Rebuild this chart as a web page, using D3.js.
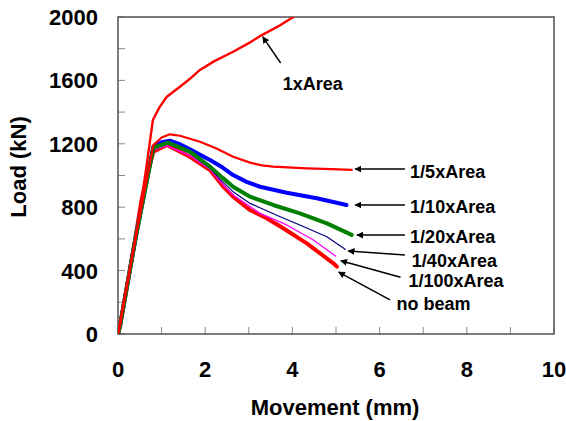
<!DOCTYPE html>
<html><head><meta charset="utf-8">
<script src="https://cdn.jsdelivr.net/npm/d3@7"></script>
<style>
html,body{margin:0;padding:0;background:#fff;}
text{font-family:"Liberation Sans",Arial,sans-serif;font-weight:bold;fill:#000;}
</style></head>
<body>
<svg id="chart" width="566" height="421"></svg>
<script>
// ---- data (Movement mm, Load kN) ----
const xTicks = [0, 2, 4, 6, 8, 10];
const yTicks = [0, 400, 800, 1200, 1600, 2000];
const seriesNames = ["no beam", "1/100xArea", "1/40xArea", "1/10xArea", "1/20xArea", "1/5xArea", "1xArea"];
const oneX = [[0,0],[0.05,80],[0.25,380],[0.45,680],[0.65,1050],[0.8,1350],[0.95,1430],[1.12,1497],[1.42,1560],[1.65,1610],[1.88,1666],[2.2,1720],[2.64,1781],[3.0,1835],[3.3,1886],[3.7,1945],[4.02,2000],[4.1,2012]];
const fifth = [[0,0],[0.05,60],[0.4,600],[0.81,1192],[1.0,1240],[1.19,1260],[1.42,1251],[1.88,1213],[2.26,1171],[2.64,1118],[3.03,1081],[3.3,1064],[3.56,1056],[4.33,1045],[4.9,1040],[5.36,1035]];
const tenth = [[0,0],[0.05,60],[0.4,600],[0.81,1182],[1.0,1210],[1.19,1220],[1.4,1200],[1.65,1165],[2.11,1098],[2.4,1050],[2.64,1003],[2.95,960],[3.26,929],[3.87,891],[4.56,856],[5.24,814]];
const twentieth = [[0,0],[0.05,60],[0.4,600],[0.81,1175],[1.15,1207],[1.65,1150],[2.11,1056],[2.4,985],[2.64,929],[3.03,866],[3.56,814],[4.17,761],[4.79,698],[5.36,625]];
const fortieth = [[0,0],[0.05,60],[0.4,600],[0.81,1170],[1.15,1200],[1.65,1140],[2.11,1045],[2.4,960],[2.64,898],[3.03,824],[3.72,740],[4.17,688],[4.79,614],[5.21,534]];
const hundredth = [[0,0],[0.05,55],[0.4,595],[0.81,1160],[1.12,1188],[1.65,1125],[2.11,1040],[2.4,945],[2.64,877],[3.26,761],[3.87,688],[4.48,593],[4.99,492]];
const noBeam = [[0,0],[0.05,50],[0.39,593],[0.54,845],[0.66,992],[0.81,1150],[1.12,1192],[1.65,1118],[2.11,1035],[2.4,935],[2.64,866],[3.03,782],[3.41,730],[3.79,667],[4.33,572],[4.94,446],[5.02,425]];
const seriesData = [noBeam, hundredth, fortieth, tenth, twentieth, fifth, oneX];
const seriesColors = ["#ff0000", "#ff00ff", "#000080", "#0000ff", "#008000", "#ff0000", "#ff0000"];
const seriesWidths = [4, 1.3, 1.2, 4, 4, 2.2, 2.4];
// annotation labels: [text, labelX(mm), labelY(kN), arrow from (mm,kN), arrow to (mm,kN)]
const labels = [
  ["1xArea", 3.78, 1540, [3.73, 1710], [3.32, 1875]],
  ["1/5xArea", 6.70, 983, [6.58, 1041], [5.44, 1041]],
  ["1/10xArea", 6.70, 762, [6.58, 814], [5.44, 814]],
  ["1/20xArea", 6.70, 572, [6.58, 624], [5.48, 624]],
  ["1/40xArea", 6.74, 421, [6.58, 499], [5.28, 524]],
  ["1/100xArea", 6.66, 295, [6.48, 358], [5.11, 462]],
  ["no beam", 6.39, 151, [6.24, 215], [5.06, 390]]
];

const W = 566, H = 421;
const margin = {left: 118, top: 17, right: 12, bottom: 87};
const svg = d3.select("#chart");
const x = d3.scaleLinear().domain([0, 10]).range([margin.left, W - margin.right]);
const y = d3.scaleLinear().domain([0, 2000]).range([H - margin.bottom, margin.top]);

svg.append("defs").append("clipPath").attr("id", "clip")
  .append("rect").attr("x", x(0)).attr("y", y(2000)).attr("width", x(10) - x(0)).attr("height", y(0) - y(2000));
svg.select("defs").append("marker").attr("id", "ah")
  .attr("viewBox", "0 0 10 10").attr("refX", 9).attr("refY", 5)
  .attr("markerWidth", 7).attr("markerHeight", 7).attr("markerUnits", "userSpaceOnUse")
  .attr("orient", "auto")
  .append("path").attr("d", "M0,0 L10,5 L0,10 Z").attr("fill", "#000");

// inner ticks
const tickColor = "#888";
svg.append("g").selectAll("line").data(d3.range(0, 2001, 200)).join("line")
  .attr("x1", x(0)).attr("x2", x(0) + 7).attr("y1", d => y(d)).attr("y2", d => y(d))
  .attr("stroke", tickColor).attr("stroke-width", 1);
svg.append("g").selectAll("line").data(d3.range(0, 11, 1)).join("line")
  .attr("x1", d => x(d)).attr("x2", d => x(d)).attr("y1", y(0)).attr("y2", y(0) - 7)
  .attr("stroke", tickColor).attr("stroke-width", 1);

// frame
svg.append("rect").attr("x", x(0)).attr("y", y(2000)).attr("width", x(10) - x(0)).attr("height", y(0) - y(2000))
  .attr("fill", "none").attr("stroke", "#505050").attr("stroke-width", 1.5);

// tick labels
svg.append("g").selectAll("text").data(yTicks).join("text")
  .attr("x", x(0) - 20).attr("y", d => y(d) + 8).attr("text-anchor", "end")
  .attr("font-size", 22).text(d => d);
svg.append("g").selectAll("text").data(xTicks).join("text")
  .attr("x", d => x(d)).attr("y", 377).attr("text-anchor", "middle")
  .attr("font-size", 22).text(d => d);

// axis titles
svg.append("text").attr("x", 335).attr("y", 415).attr("text-anchor", "middle")
  .attr("font-size", 22).text("Movement (mm)");
svg.append("text").attr("transform", "translate(26,167) rotate(-90)").attr("text-anchor", "middle")
  .attr("font-size", 22).text("Load (kN)");

// series
const line = d3.line().x(d => x(d[0])).y(d => y(d[1]));
svg.append("g").attr("clip-path", "url(#clip)").selectAll("path").data(seriesData).join("path")
  .attr("d", line).attr("fill", "none")
  .attr("stroke", (d, i) => seriesColors[i]).attr("stroke-width", (d, i) => seriesWidths[i])
  .attr("stroke-linejoin", "round").attr("stroke-linecap", "round");

// annotations
const ann = svg.append("g");
labels.forEach(l => {
  ann.append("line").attr("x1", x(l[3][0])).attr("y1", y(l[3][1])).attr("x2", x(l[4][0])).attr("y2", y(l[4][1]))
    .attr("stroke", "#000").attr("stroke-width", 1.5).attr("marker-end", "url(#ah)");
  ann.append("text").attr("x", x(l[1])).attr("y", y(l[2])).attr("font-size", 18).text(l[0]);
});
</script>
</body></html>
